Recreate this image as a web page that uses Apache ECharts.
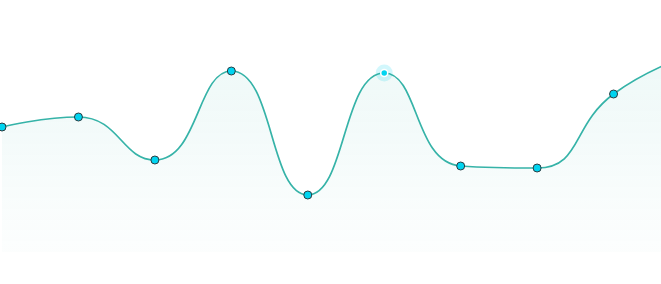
<!DOCTYPE html>
<html><head><meta charset="utf-8">
<script src="https://cdn.jsdelivr.net/npm/echarts@6/dist/echarts.min.js"></script>
<style>html,body{margin:0;padding:0;background:#fff}#c{width:661px;height:284px}</style>
</head><body><div id="c"></div>
<script>
const categories = ['1','2','3','4','5','6','7','8','9','10'];
const values = [125, 135, 92, 181, 57, 179, 86, 84, 158, 197];
const highlightIndex = 5;

const chart = echarts.init(document.getElementById('c'), null, {renderer:'canvas'});
chart.setOption({
  animation:false,
  grid:{left:2, top:2, width:688, height:250, containLabel:false, outerBoundsMode:'none'},
  xAxis:{type:'category', data:categories, boundaryGap:false, show:false},
  yAxis:{type:'value', min:0, max:250, show:false},
  series:[
    {
      type:'line', smooth:true, data:values.map((v,i)=> i===highlightIndex ? {value:v, symbolSize:7, itemStyle:{color:'#00d4f0', borderColor:'#ffffff', borderWidth:1.5}} : v),
      symbol:'circle', symbolSize:8,
      lineStyle:{color:'#36b3a8', width:1.7},
      itemStyle:{color:'#00d4f0', borderColor:'#2b3b40', borderWidth:1},
      areaStyle:{color:new echarts.graphic.LinearGradient(0,0,0,1,[{offset:0,color:'rgba(54,179,168,0.12)'},{offset:1,color:'rgba(54,179,168,0.02)'}])},
      z:3
    },
    {
      type:'scatter', data:values.map((v,i)=> i===highlightIndex ? v : null),
      symbolSize:17, itemStyle:{color:'rgba(0,212,240,0.22)'}, z:2, silent:true
    }
  ]
});
</script></body></html>
